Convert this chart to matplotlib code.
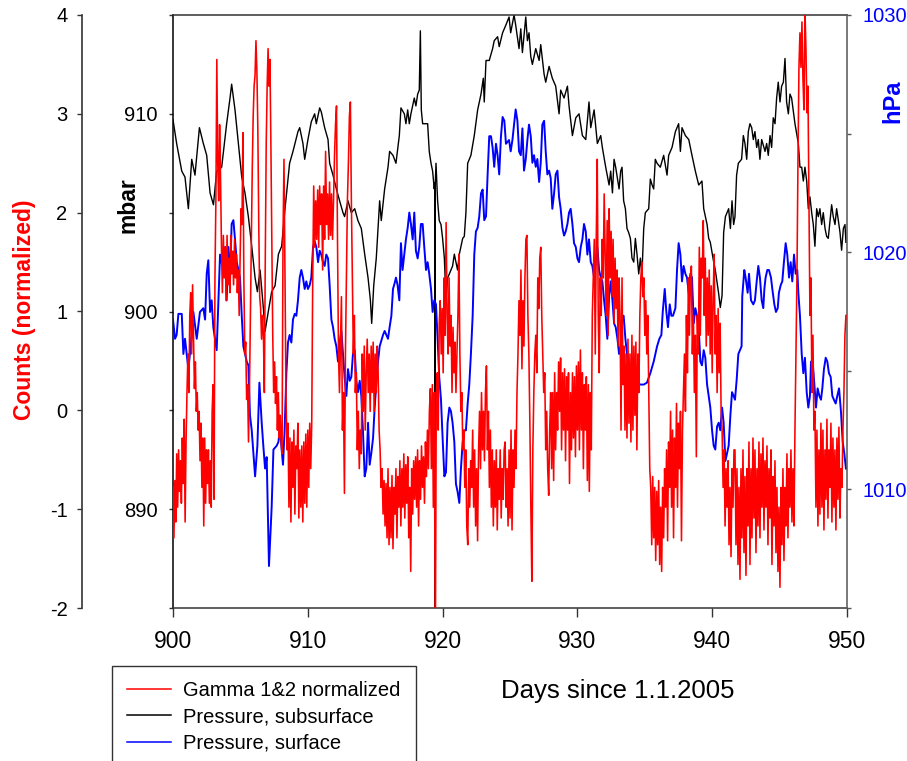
import numpy as np
import matplotlib
matplotlib.use("Agg")
import matplotlib.pyplot as plt
from matplotlib.lines import Line2D

plt.rcParams['font.family'] = ['Liberation Sans', 'DejaVu Sans']
plt.rcParams['axes.unicode_minus'] = False

# ---------------------------------------------------------------------------
# Subsurface pressure (mbar)
# ---------------------------------------------------------------------------
sub_days = [
    900.0, 900.27, 900.65, 900.89, 901.14, 901.39, 901.63, 901.96, 902.25, 902.5,
    902.75, 903.0, 903.24, 903.61, 903.98, 904.23, 904.35, 904.6, 904.85, 905.1,
    905.34, 905.59, 905.84, 906.09, 906.26, 906.46, 906.7, 906.83, 907.07, 907.32,
    907.57, 907.82, 908.06, 908.31,
    908.65, 908.9, 909.27, 909.4, 909.64, 909.77, 910.01, 910.26, 910.51, 910.63,
    910.88, 911.0, 911.25, 911.5, 911.62, 911.87, 912.12, 912.36, 912.61, 912.73,
    912.98, 913.23, 913.48, 913.72, 913.97, 914.22, 914.47, 914.64, 914.74, 914.89,
    915.08, 915.33, 915.45, 915.7, 915.95, 916.07, 916.32,
    916.54, 916.79, 916.91, 917.16, 917.28, 917.41, 917.53, 917.65, 917.9, 918.02,
    918.15, 918.27, 918.35, 918.42, 918.52, 918.72, 918.89, 919.01, 919.14, 919.26,
    919.38, 919.42, 919.44, 919.46, 919.51, 919.63, 919.75, 919.88, 920.0, 920.13,
    920.25, 920.37, 920.5, 920.74, 920.87, 921.11, 921.24, 921.49, 921.61, 921.73,
    921.86, 921.98, 922.1, 922.35, 922.6, 922.85, 923.02, 923.09, 923.22, 923.46,
    923.71, 923.83, 924.08, 924.2, 924.45, 924.7,
    924.93, 925.05, 925.3, 925.42, 925.67, 925.8, 925.92, 926.17, 926.29, 926.41,
    926.54, 926.66, 926.91, 927.16, 927.28, 927.53, 927.65, 927.9, 928.14, 928.39,
    928.64, 928.76, 929.01, 929.26, 929.38, 929.63, 929.88, 930.12, 930.37, 930.62,
    930.86, 930.99, 931.24, 931.48, 931.73, 931.85, 932.1, 932.35, 932.47, 932.6,
    932.72, 932.84, 933.09, 933.21,
    933.31, 933.43, 933.56, 933.68, 933.8, 933.93, 934.05, 934.18, 934.3, 934.42,
    934.55, 934.67, 934.79, 934.92, 935.04, 935.29, 935.41, 935.54, 935.66, 935.78,
    935.91, 936.15, 936.4, 936.65, 936.77, 937.02, 937.27, 937.51, 937.64, 937.76,
    938.01, 938.26, 938.5, 938.75, 939.0, 939.24, 939.37, 939.62, 939.74, 939.86,
    940.11, 940.23, 940.48, 940.6, 940.73, 940.85, 940.98, 941.22, 941.35, 941.47,
    941.59,
    941.69, 941.81, 941.94, 942.18, 942.31, 942.43, 942.56, 942.68, 942.8, 942.93,
    943.05, 943.17, 943.3, 943.42, 943.54, 943.67, 943.92, 944.04, 944.16, 944.29,
    944.41, 944.53, 944.66, 944.78, 944.9, 945.03, 945.15, 945.28, 945.4, 945.52,
    945.65, 945.77, 945.89, 946.14, 946.39, 946.51, 946.64, 946.76, 946.88, 947.01,
    947.13, 947.25, 947.38, 947.5, 947.62, 947.75, 947.87, 947.99, 948.12, 948.24,
    948.37, 948.49, 948.61, 948.86, 948.98, 949.11, 949.23, 949.36, 949.48, 949.6,
    949.73, 949.85, 949.92,
]
sub_mbar = [
    909.7, 908.5, 907.1, 906.8, 905.2, 907.7, 906.9, 909.3, 908.5, 907.9,
    906.0, 905.4, 907.1, 907.3, 909.5, 910.8, 911.5, 910.2, 908.5, 906.8,
    906.0, 904.8, 903.3, 901.7, 901.0, 902.1, 900.2, 899.0, 900.0, 901.0,
    901.3, 902.9, 903.3, 905.2,
    907.5, 908.1, 909.1, 909.3, 908.5, 907.7, 908.7, 909.6, 910.0, 909.5,
    910.3, 910.1, 909.3, 908.7, 907.5, 906.9, 906.2, 905.6, 905.0, 904.8,
    905.6, 905.0, 905.2, 904.6, 904.2, 902.9, 901.7, 900.6, 899.4, 901.3,
    902.7, 905.6, 904.6, 906.2, 907.3, 908.1, 907.9,
    907.5, 908.9, 910.3, 910.0, 909.5, 910.2, 909.5, 910.0, 910.8, 910.4,
    911.0, 911.2, 914.2, 910.2, 909.5, 909.5, 909.5, 908.1, 907.5, 907.1,
    906.2, 906.5, 883.0, 906.5, 907.5, 905.6, 904.6, 904.4, 903.7, 902.7,
    900.6, 901.7, 901.9, 902.3, 902.9, 902.1, 902.9, 903.7, 903.8, 905.0,
    907.5, 907.7, 907.9, 908.9, 910.2, 911.0, 911.8, 910.6, 912.7, 912.7,
    913.3, 913.7, 913.9, 913.4, 914.1, 914.5,
    914.9, 914.1, 915.0, 914.5, 913.3, 914.3, 913.1, 914.9, 913.7, 914.1,
    912.9, 912.5, 913.3, 912.7, 913.5, 912.0, 911.6, 912.4, 911.8, 911.4,
    910.0, 911.2, 910.8, 911.4, 910.4, 908.9, 909.8, 910.0, 908.9, 908.7,
    910.6, 909.3, 910.2, 908.5, 908.9, 908.3, 907.3, 906.4, 907.1, 906.0,
    907.7, 907.3, 906.2, 907.1,
    907.3, 905.6, 905.2, 904.2, 904.0, 903.7, 902.7, 902.5, 903.7, 902.9,
    901.9, 902.7, 901.9, 904.2, 905.0, 905.2, 906.7, 906.4, 906.2, 907.7,
    907.5, 907.3, 907.9, 906.9, 907.9, 908.3, 909.1, 909.5, 908.1, 909.3,
    908.9, 908.7, 907.9, 907.1, 906.4, 906.6, 905.2, 904.4, 903.7, 903.5,
    902.5, 902.1, 900.9, 900.2, 900.8, 904.0, 904.8, 905.2, 904.2, 905.6,
    904.4,
    904.8, 906.9, 907.5, 907.7, 908.9, 908.5, 907.7, 909.1, 909.5, 909.3,
    908.7, 909.1, 908.3, 908.7, 907.7, 908.7, 908.1, 908.5, 907.9, 908.9,
    908.3, 909.8, 909.5, 910.8, 911.6, 910.6, 911.4, 911.6, 912.8, 910.6,
    910.0, 911.0, 910.8, 909.5, 908.5, 907.3, 907.3, 906.6, 907.3, 906.6,
    905.2, 905.8, 905.0, 904.4, 903.3, 905.2, 904.8, 905.2, 904.4, 905.0,
    904.2, 903.8, 903.7, 905.4, 904.8, 904.4, 905.2, 904.6, 904.0, 903.1,
    904.2, 904.4, 903.5,
]

# ---------------------------------------------------------------------------
# Surface pressure (hPa)
# ---------------------------------------------------------------------------
surf_days = [
    900.0, 900.15, 900.27, 900.4, 900.65, 900.77, 900.89, 901.14, 901.31, 901.51,
    901.76, 902.0, 902.25, 902.38, 902.5, 902.62, 902.75, 902.87, 902.99, 903.24,
    903.49, 903.66, 903.86, 903.98, 904.11, 904.23, 904.35, 904.48, 904.6, 904.73,
    904.97, 905.1, 905.22, 905.47, 905.59, 905.71, 905.84, 906.09, 906.26, 906.41,
    906.58, 906.7, 906.83, 906.95, 907.12, 907.32, 907.45, 907.69, 907.82, 907.94,
    908.06,
    908.16, 908.28, 908.41, 908.53, 908.65, 908.78, 908.9, 909.03, 909.15, 909.27,
    909.4, 909.52, 909.64, 909.77, 909.89, 910.01, 910.14, 910.26, 910.39, 910.51,
    910.63, 910.76, 910.88, 911.0, 911.13, 911.25, 911.37, 911.5, 911.62, 911.75,
    911.87, 911.99, 912.12, 912.24, 912.36, 912.49, 912.61, 912.73, 912.86, 912.98,
    913.11, 913.23, 913.35, 913.48, 913.6, 913.72, 913.85, 913.97, 914.09, 914.22,
    914.34, 914.47, 914.59, 914.71, 914.84, 914.96, 915.08, 915.21, 915.33, 915.58,
    915.7, 915.95, 916.07, 916.2, 916.32, 916.44,
    916.54, 916.66, 916.79, 916.91, 917.03, 917.16, 917.28, 917.41, 917.53, 917.65,
    917.78, 917.9, 918.02, 918.15, 918.27, 918.39, 918.52, 918.64, 918.77, 918.89,
    919.01, 919.14, 919.26, 919.38, 919.51, 919.63, 919.75, 919.88, 920.0, 920.13,
    920.25, 920.37, 920.5, 920.62, 920.74, 920.87, 920.99, 921.11, 921.24, 921.36,
    921.49, 921.61, 921.73, 921.86, 921.98, 922.1, 922.23, 922.35, 922.47, 922.6,
    922.72, 922.85, 922.97, 923.09, 923.22, 923.34, 923.46, 923.59, 923.71, 923.83,
    923.96, 924.08, 924.2, 924.33, 924.45, 924.58, 924.7, 924.82,
    924.93, 925.05, 925.18, 925.3, 925.42, 925.55, 925.67, 925.8, 925.92, 926.04,
    926.17, 926.29, 926.41, 926.54, 926.66, 926.78, 926.91, 927.03, 927.16, 927.28,
    927.4, 927.53, 927.65, 927.77, 927.9, 928.02, 928.14, 928.27, 928.39, 928.52,
    928.64, 928.76, 928.89, 929.01, 929.13, 929.26, 929.38, 929.5, 929.63, 929.75,
    929.88, 930.0, 930.12, 930.25, 930.37, 930.49, 930.62, 930.74, 930.86, 930.99,
    931.11, 931.24, 931.36, 931.48, 931.61, 931.73, 931.85, 931.98, 932.1, 932.22,
    932.35, 932.47, 932.6, 932.72, 932.84, 932.97, 933.09, 933.21,
    933.31, 933.43, 933.56, 933.68, 933.8, 933.93, 934.18, 934.42, 934.67, 934.92,
    935.16, 935.41, 935.66, 935.91, 936.08, 936.23, 936.33, 936.48, 936.6, 936.72,
    936.85, 936.97, 937.09, 937.27, 937.39, 937.51, 937.64, 937.76, 937.88, 938.01,
    938.13, 938.26, 938.38, 938.5, 938.63, 938.75, 938.87, 939.0, 939.12, 939.24,
    939.37, 939.49, 939.62, 939.74, 939.86, 939.99, 940.11, 940.23, 940.36, 940.48,
    940.6, 940.73, 940.85, 940.98, 941.1, 941.22, 941.35, 941.47, 941.59,
    941.69, 941.81, 941.94, 942.06, 942.18, 942.23, 942.38, 942.48, 942.63, 942.73,
    942.88, 943.05, 943.17, 943.3, 943.42, 943.54, 943.67, 943.79, 943.87, 943.96,
    944.09, 944.21, 944.36, 944.46, 944.61, 944.73, 944.86, 944.95, 945.08, 945.2,
    945.32, 945.45, 945.57, 945.7, 945.82, 945.94, 946.07, 946.19, 946.31, 946.39,
    946.51, 946.64, 946.76, 946.88, 947.01, 947.13, 947.25, 947.33, 947.45, 947.58,
    947.7, 947.82, 947.95, 948.07, 948.17, 948.29, 948.42, 948.54, 948.66, 948.79,
    948.91, 949.03, 949.16, 949.28, 949.41, 949.55, 949.68, 949.8, 949.92,
]
surf_hpa = [
    1017.16, 1016.35, 1016.51, 1017.4, 1017.4, 1015.71, 1016.35, 1015.07, 1016.03, 1017.48,
    1016.35, 1017.48, 1017.64, 1017.16, 1019.09, 1019.66, 1017.48, 1017.97, 1016.84, 1015.87,
    1019.9, 1019.42, 1020.22, 1017.97, 1020.22, 1018.77, 1021.19, 1021.35, 1020.54, 1019.58,
    1018.93, 1017.32, 1016.03, 1015.39, 1015.23, 1013.13, 1012.49, 1010.55, 1011.84, 1014.5,
    1012.81, 1011.84, 1010.88, 1011.36, 1006.77, 1009.27, 1011.68, 1011.84, 1012.0, 1012.57,
    1011.68,
    1011.04, 1012.49, 1014.9, 1016.19, 1016.51, 1016.19, 1017.16, 1017.4, 1017.32, 1017.97,
    1018.93, 1019.25, 1018.93, 1018.45, 1018.77, 1018.45, 1018.61, 1018.93, 1020.22, 1020.46,
    1020.22, 1019.58, 1020.06, 1019.9, 1019.58, 1019.42, 1019.9, 1019.74, 1018.61, 1017.16,
    1016.84, 1016.35, 1016.03, 1015.39, 1016.19, 1016.68, 1015.71, 1014.74, 1013.94, 1015.07,
    1014.58, 1014.74, 1015.71, 1015.87, 1014.58, 1014.1, 1014.58, 1013.94, 1012.49, 1010.55,
    1010.88, 1012.81, 1011.04, 1011.52, 1012.16, 1013.45, 1014.42, 1015.39, 1016.03, 1016.51,
    1016.68, 1016.35, 1016.84, 1017.32, 1018.45, 1018.69,
    1018.93, 1018.61, 1017.97, 1020.38, 1019.25, 1019.9, 1020.54, 1021.03, 1021.67, 1021.19,
    1020.54, 1021.67, 1020.06, 1019.74, 1020.22, 1021.19, 1021.19, 1020.22, 1019.25, 1019.58,
    1019.09, 1018.45, 1017.48, 1017.97, 1017.8, 1016.35, 1014.74, 1013.78, 1012.17, 1010.55,
    1010.72, 1012.81, 1013.45, 1013.29, 1012.81, 1012.0, 1010.23, 1009.91, 1009.43, 1010.88,
    1012.0, 1012.49, 1012.49, 1013.62, 1014.42, 1015.71, 1017.32, 1019.9, 1020.87, 1021.03,
    1021.51, 1022.48, 1022.64, 1021.35, 1021.51, 1023.28, 1024.89, 1024.89, 1024.41, 1023.6,
    1024.57, 1024.09, 1023.28, 1024.89, 1025.7, 1025.54, 1024.57, 1024.65,
    1024.73, 1024.25, 1024.73, 1025.38, 1026.02, 1025.54, 1024.25, 1024.09, 1025.22, 1023.44,
    1023.93, 1024.73, 1025.38, 1024.89, 1023.77, 1024.09, 1023.6, 1023.93, 1022.96, 1023.77,
    1025.38, 1025.54, 1024.25, 1023.28, 1023.44, 1023.12, 1021.83, 1022.48, 1023.28, 1023.44,
    1022.32, 1021.83, 1021.03, 1020.7, 1020.87, 1021.19, 1021.67, 1021.83, 1021.19, 1020.38,
    1020.22, 1019.74, 1019.58, 1020.22, 1020.54, 1021.19, 1020.87, 1019.9, 1020.54, 1019.58,
    1019.42, 1018.93, 1019.58, 1020.22, 1019.25, 1018.93, 1018.77, 1017.97, 1017.32, 1016.35,
    1018.13, 1018.77, 1017.97, 1017.0, 1016.84, 1016.35, 1015.71, 1016.03,
    1017.32, 1017.32, 1016.35, 1015.71, 1014.9, 1014.58, 1014.58, 1014.5, 1014.42, 1014.42,
    1014.5, 1014.9, 1015.39, 1016.03, 1016.35, 1016.51, 1017.48, 1018.45, 1017.48, 1016.84,
    1017.8, 1017.32, 1017.32, 1017.64, 1019.25, 1020.38, 1019.9, 1018.77, 1019.42, 1019.09,
    1018.93, 1018.29, 1019.09, 1018.93, 1017.0, 1017.64, 1017.32, 1016.84, 1015.39, 1015.23,
    1015.87, 1015.55, 1014.42, 1013.94, 1013.45, 1012.49, 1011.84, 1011.68, 1012.65, 1012.81,
    1012.49, 1013.45, 1012.81, 1011.2, 1011.52, 1011.84, 1013.13, 1014.1, 1013.94,
    1013.78, 1014.58, 1015.71, 1015.87, 1016.03, 1018.13, 1019.25, 1018.93, 1018.29, 1019.09,
    1017.97, 1017.8, 1017.97, 1018.77, 1019.42, 1018.93, 1017.97, 1017.64, 1018.45, 1018.93,
    1019.25, 1019.25, 1018.93, 1018.45, 1017.8, 1017.48, 1017.64, 1018.29, 1018.61, 1018.77,
    1019.58, 1020.38, 1019.9, 1018.93, 1019.58, 1018.77, 1019.9, 1019.09, 1019.25, 1018.29,
    1017.32, 1015.71, 1014.9, 1015.55, 1014.1, 1013.45, 1013.94, 1015.39, 1015.39, 1014.42,
    1013.45, 1014.26, 1013.94, 1013.78, 1014.26, 1015.07, 1015.55, 1015.39, 1014.9, 1014.74,
    1013.94, 1013.78, 1013.62, 1013.94, 1014.26, 1013.29, 1012.0, 1011.52, 1010.88,
]

# ---------------------------------------------------------------------------
# Gamma 1&2 counts (normalized), logged at a regular interval in six blocks
# ---------------------------------------------------------------------------
gamma_block_days = [900.0, 908.16, 916.54, 924.93, 933.31, 941.69, 949.92]

gamma_1 = [
    -0.78, -1.29, -0.71, -1.13, -0.44, -0.98, -0.40, -0.82, -0.51, -0.94, -0.28, -0.74, -0.09, -1.13, -0.32,
    0.18, 0.57, 0.18, 0.96, 1.19, 0.57, 1.27, 0.76, 0.22,
    0.49, -0.01, 0.18, -0.20, -0.01, -0.51, -0.13, -0.78, -0.28, -1.17, -0.28, -0.94, -0.40, -0.74, -0.40, -0.94,
    -0.51, -0.98, -0.01, 0.26, -0.90,
    1.34, 2.12, 3.55, 2.50, 2.12, 2.89, 2.35, 1.65, 1.19, 1.77, 1.34, 1.65, 1.11, 1.77, 1.27, 1.54, 1.19, 1.77,
    1.38, 1.61, 1.27, 1.73, 1.34, 1.58, 1.19, 1.42, 0.96, 1.54, 2.04, 1.88, 2.81, 1.34, 0.57, 0.69, 0.11, 0.26,
    -0.32, 0.18, 0.96, 1.73, 2.43, 2.97,
    3.28, 3.39, 3.74, 3.43, 2.85,
    1.88, 1.15, 1.03, 0.72, 0.96, 0.76, 0.18,
    1.54, 2.70, 3.28, 3.66, 3.28, 3.55, 2.70, 1.73, 0.76,
    0.18, 0.49, 0.07, 0.34, -0.20, 0.18, -0.28, -0.05, -0.32, -0.44,
]
gamma_2 = [
    1.73, 2.54, 1.34, 0.18, -0.40, -0.13, -0.98, -0.28, -1.13, -0.32,
    -0.78, -0.20, -1.05, -0.36, -0.59, -0.13, -1.09, -0.40, -0.98, -0.36,
    -1.13, -0.32, -0.94, -0.24, -0.98, -0.20, -0.78, -0.13, -0.59, -0.13,
    1.34, 2.27, 1.65, 2.12, 1.73, 2.23, 1.65, 2.27, 1.88, 2.19,
    1.42, 2.27, 1.73, 2.62, 1.88, 2.19, 1.73, 2.31, 1.77, 2.19,
    1.73, 2.12, 2.58, 2.89, 3.08,
    1.73, 0.57, 0.18, 0.65, 1.15, -0.20, 0.18, -0.84, 0.57, 1.34, 2.12, 2.50, 2.97, 3.12,
    2.12, 1.34, 0.57, 0.96, 0.18, 0.38, -0.40, -0.01, -0.59, -0.20,
    -0.44, 0.57, -0.01, 0.65, -0.20, 0.38, 0.72, 0.18, 0.57, -0.01,
    0.65, 0.18, 0.69, -0.01, 0.57, 0.18, 0.65, 0.38,
    -0.20, -0.40, -0.78, -0.59, -1.05, -0.71, -1.17, -0.74, -1.29, -0.59,
    -1.36, -0.78, -1.29, -0.66, -1.40, -0.78, -1.05,
]
gamma_3 = [
    -0.59, -1.29, -0.67, -0.98, -0.51, -1.17, -0.59, -0.98, -0.44, -1.09,
    -0.55, -0.94, -0.47, -1.29, -0.78, -1.63, -0.59, -1.05, -0.51, -0.90,
    -0.47, -0.98, -0.40, -1.17, -0.51, -0.90, -0.36, -0.78, -0.47, -0.94,
    -0.32, -0.67, -0.20, -0.59, -0.01, 0.22, -0.59, 0.26, -0.98, 0.18,
    -2.6,
    0.18, 0.38, -0.20, 0.88, 1.11, 0.57, 1.03, 0.38, 1.34, 0.76,
    1.90, 0.96, 0.57, 1.34, 0.65, 0.96, 0.18, 0.84, 0.38, 0.69,
    0.18, 0.57, 0.96, 1.58, 0.57, -0.01, 0.18, -0.40, -0.20, -0.78,
    -0.40, -1.17, -1.36, -0.59, -0.98, -0.51, -0.78, -0.20, -0.98, -0.40,
    -1.17, -0.59, -1.32, -0.40, -0.01, -0.59, 0.18, -0.40, -0.01, -0.51,
    0.18, 0.45, -0.40, -0.01, -0.78, -0.20, -0.98, -0.40, -1.17, -0.51,
    -0.98, -0.40, -1.21, -0.59, -0.90, -0.40, -1.09, -0.59, -0.90, -0.40,
    -0.32, -0.98, -0.59, -1.17,
]
gamma_4 = [
    -0.40, -1.09, -0.20, -1.21, -0.40, -0.78, -0.20, -0.59, 0.18, 0.57,
    1.11, 0.76, 1.42, 0.42, 1.11, 0.65, 1.34, 1.73, 1.77, 0.96,
    0.57, -0.13, -0.98, -1.73, -0.40, 0.18, 0.57, 0.76, 0.38, 1.34,
    1.03, 1.54, 1.65, 0.96, 0.57, 0.18, 0.38, -0.40, -0.01, -0.59,
    -0.86, -0.20, 0.18, -0.59, 0.18, -0.71, 0.38, -0.40, 0.18, -0.20,
    0.49, -0.01, 0.53, -0.40, 0.38, -0.20, 0.42, -0.51, 0.34, -0.20,
    0.38, -0.74, 0.18, -0.40, 0.38, -0.28, 0.34, -0.47, 0.45, -0.20,
    0.49, -0.40, 0.61, -0.20, 0.38, -0.59, 0.26, -0.20, 0.34, -0.71,
    0.26, -0.82, 0.18, -0.40, 0.96, 1.34, 1.73, 0.57, 1.73, 2.54,
    0.96, 0.38, 1.34, 0.96, 1.73, 1.34, 2.19, 1.54, 0.96, 1.92,
    0.76, 2.04, 1.34, 1.81, 1.15, 1.73, 0.88, 1.54, 1.03, 1.42,
    0.65, 1.34, 0.96, -0.20,
]
gamma_5 = [
    1.34, 0.26, 0.65, -0.20, 0.57, -0.28, 0.72, -0.13, 0.57, -0.32,
    0.76, -0.20, 0.65, -0.05, 0.69, -0.40, 0.57, 0.18, 0.96, 1.34,
    1.50, 1.15, 1.34, 0.76, 1.11, 0.57, 0.96, 0.18, -0.59, -0.78,
    -1.36, -0.67, -1.29, -0.78, -1.52, -0.82, -1.36, -0.71, -1.56, -0.98,
    -1.63, -0.78, -1.29, -0.59, -0.98, -0.40, -1.32, -0.32, -0.78, -0.01,
    -0.98, -0.20, -1.29, -0.28, -0.78, 0.07, -0.98, -0.13, -0.59, -0.01,
    -1.32, -0.20, 0.18, 0.57, -0.01, 0.96, 0.38, 1.34, 0.76, 1.34,
    1.46, 0.57, 0.96, 0.18, 0.76, -0.47, 0.96, 0.57, 1.65, 0.76,
    1.54, 1.34, 1.92, 0.96, 1.54, 0.65, 1.34, 0.76, 1.42, 0.57,
    1.26, 0.38, 1.15, 1.58, 0.57, 0.96, 0.18, 1.03, 0.38, 0.88,
    -0.01, -0.20, -0.78, -0.40, -1.17, -0.59, -0.98, -0.51, -1.36, -0.78,
    -1.48, -0.59, -0.98, -0.40,
]
gamma_6 = [
    -0.40, -1.36, -0.59, -1.56, -0.78, -1.71, -0.59, -1.29, -0.40, -1.44,
    -0.67, -1.67, -0.59, -1.17, -0.32, -1.56, -0.59, -1.29, -0.28, -1.09,
    -0.40, -1.44, -0.59, -1.17, -0.32, -1.29, -0.44, -0.98, -0.28, -1.21,
    -0.51, -0.98, -0.36, -1.36, -0.59, -1.09, -0.40, -1.56, -0.67, -1.17,
    -0.51, -1.44, -0.78, -1.63, -0.98, -1.79, -0.78, -1.36, -0.59, -1.52,
    -0.78, -1.17, -0.44, -1.29, -0.59, -0.98, -0.40, -1.13, -0.59, -1.17,
    -0.20, 0.57, 1.34, 2.50, 3.47, 3.82, 3.47, 3.93, 3.35, 3.04,
    4.05, 3.66, 3.01, 3.28, 2.12, 0.96, 1.34, 0.18, 0.76, -0.20,
    -0.01, -0.98, -0.20, -1.17, -0.40, -1.05, -0.13, -0.98, -0.20, -1.21,
    -0.40, -0.90, -0.09, -1.09, -0.40, -0.78, -0.13, -1.13, -0.28, -0.98,
    -0.40, -1.21, -0.28, -0.90, -0.17, -1.09, -0.59, -0.78, -0.20, 0.18,
    0.76, 0.96,
]

gamma_blocks = [gamma_1, gamma_2, gamma_3, gamma_4, gamma_5, gamma_6]

count_ticks = [-2, -1, 0, 1, 2, 3, 4]
mbar_ticks = [890, 900, 910]
mbar_minor = [885, 895, 905, 915]
hpa_ticks = [1010, 1020, 1030]
hpa_minor = [1005, 1015, 1025]
day_ticks = [900, 910, 920, 930, 940, 950]

legend_labels = ["Gamma 1&2 normalized", "Pressure, subsurface", "Pressure, surface"]

# sample times of the gamma record
gamma_days = []
gamma = []
n_blocks = len(gamma_blocks)
for i, vals in enumerate(gamma_blocks):
    last = (i == n_blocks - 1)
    t = np.linspace(gamma_block_days[i], gamma_block_days[i + 1], len(vals), endpoint=last)
    gamma_days.extend(t)
    gamma.extend(vals)

# ---------------------------------------------------------------------------
# Figure
# ---------------------------------------------------------------------------
W, H = 907, 761
fig = plt.figure(figsize=(W / 100, H / 100), dpi=100)

ax = fig.add_axes([173 / W, 1 - 608 / H, 674 / W, 593 / H])   # subsurface, mbar
ax_g = ax.twinx()                                              # gamma counts
ax_s = ax.twinx()                                              # surface, hPa

ax.set_zorder(1)
ax_s.set_zorder(2)
ax_g.set_zorder(3)
ax.patch.set_facecolor('white')
ax_s.patch.set_visible(False)
ax_g.patch.set_visible(False)

spine_col = '#333333'

line_sub, = ax.plot(sub_days, sub_mbar, color='black', lw=1.0)
line_surf, = ax_s.plot(surf_days, surf_hpa, color='blue', lw=1.4)
line_gam, = ax_g.plot(gamma_days, gamma, color='red', lw=1.15)

# x axis
ax.set_xlim(900, 950)
ax.set_xticks(day_ticks)
ax.tick_params(axis='x', direction='out', length=6.5, width=1.0, labelsize=16.5,
               pad=9, color=spine_col)

# mbar axis on the plot frame
ax.set_ylim(885, 915)
ax.set_yticks(mbar_ticks)
ax.set_yticks(mbar_minor, minor=True)
ax.tick_params(axis='y', which='both', direction='out', length=3, width=1.0,
               labelsize=14.5, pad=8, left=True, right=False, color=spine_col)
ax.spines['left'].set_color('black')
ax.spines['top'].set_color(spine_col)
ax.spines['bottom'].set_color(spine_col)
ax.spines['right'].set_visible(False)
for s in ax.spines.values():
    s.set_linewidth(1.1)

# gamma axis, detached on the far left
ax_g.set_ylim(-2, 4)
ax_g.set_yticks(count_ticks)
ax_g.yaxis.set_ticks_position('left')
ax_g.yaxis.set_label_position('left')
ax_g.spines['left'].set_position(('outward', 65.5))
ax_g.spines['left'].set_visible(True)
ax_g.spines['left'].set_color(spine_col)
ax_g.spines['left'].set_linewidth(1.2)
for k in ('right', 'top', 'bottom'):
    ax_g.spines[k].set_visible(False)
ax_g.tick_params(axis='y', direction='out', length=3.5, width=1.0, labelsize=14.5,
                 pad=7, color=spine_col, labelcolor='black')

# hPa axis on the right
ax_s.set_ylim(1005, 1030)
ax_s.set_yticks(hpa_ticks)
ax_s.set_yticks(hpa_minor, minor=True)
for k in ('left', 'top', 'bottom'):
    ax_s.spines[k].set_visible(False)
ax_s.spines['right'].set_color('#555555')
ax_s.spines['right'].set_linewidth(1.1)
ax_s.tick_params(axis='y', which='both', direction='out', length=3, width=1.0,
                 labelsize=14.5, pad=8, color='#555555', labelcolor='blue')

# axis titles
fig.text(25 / W, 1 - 310 / H, 'Counts (normalized)', rotation=90, color='red',
         fontsize=16.5, fontweight='bold', ha='center', va='center')
fig.text(128 / W, 1 - 205 / H, 'mbar', rotation=90, color='black',
         fontsize=16.5, fontweight='bold', ha='center', va='center')
fig.text(893 / W, 1 - 101 / H, 'hPa', rotation=90, color='blue',
         fontsize=17, fontweight='bold', ha='center', va='center')
fig.text(618 / W, 1 - 691 / H, 'Days since 1.1.2005', fontsize=18.5,
         ha='center', va='center')

# legend
handles = [Line2D([], [], color='red', lw=1.1),
           Line2D([], [], color='black', lw=1.1),
           Line2D([], [], color='blue', lw=1.1)]
leg = fig.legend(handles, legend_labels, loc='upper left',
                 bbox_to_anchor=(112 / W, 1 - 666 / H), bbox_transform=fig.transFigure,
                 frameon=True, fancybox=False, shadow=False, fontsize=14.5,
                 handlelength=2.2, handletextpad=0.6, borderpad=0.75,
                 labelspacing=0.36, borderaxespad=0.0)
leg.get_frame().set_edgecolor('black')
leg.get_frame().set_linewidth(1.0)

fig.savefig('out.png', dpi=100)
